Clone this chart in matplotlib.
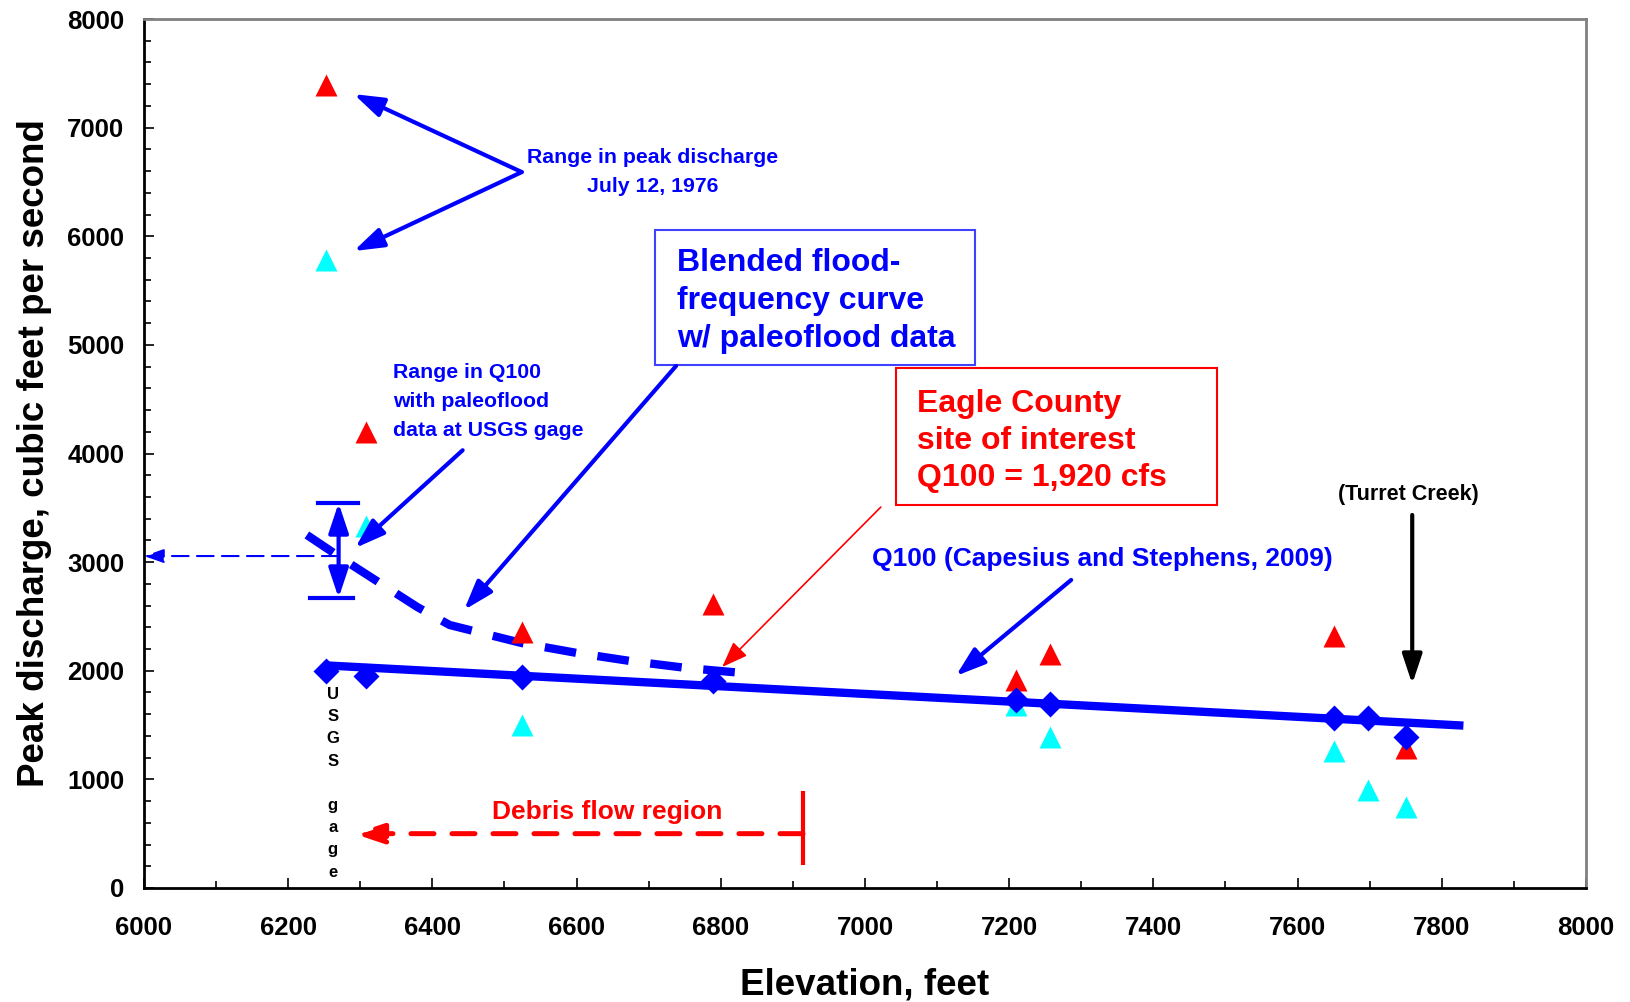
import matplotlib
matplotlib.use('Agg')
import matplotlib.pyplot as plt
from matplotlib.patches import Rectangle
from matplotlib.ticker import MultipleLocator

plt.rcParams['font.family'] = ['Liberation Sans', 'DejaVu Sans']
plt.rcParams['font.weight'] = 'bold'

# station elevations, ft
elev_red = [6253, 6308, 6524, 6789, 7210, 7256, 7650, 7751]
peak_high = [7390, 4200, 2355, 2615, 1915, 2155, 2318, 1285]

elev_cyan = [6253, 6308, 6524, 6789, 7210, 7256, 7650, 7698, 7751]
peak_low = [5783, 3333, 1496, 1936, 1687, 1391, 1257, 903, 750]

elev_q = [6253, 6308, 6524, 6789, 7210, 7256, 7650, 7698, 7751]
q100 = [1993, 1955, 1946, 1908, 1726, 1697, 1563, 1563, 1391]

# regression line Q100 (Capesius and Stephens, 2009)
reg_elev = [6250, 7830]
reg_q = [2050, 1495]

# blended flood-frequency curve w/ paleoflood data
blend_elev = [6226, 6282, 6379, 6424, 6524, 6601, 6674, 6753, 6831]
blend_q = [3250, 3001, 2587, 2421, 2255, 2163, 2090, 2025, 1979]

# range in Q100 with paleoflood data at the gage
gage_elev = 6270
q100_lo, q100_hi, q100_mid = 2670, 3544, 3056

BLUE = '#0000ff'
RED = '#ff0000'
CYAN = '#00ffff'

fig = plt.figure(figsize=(16.3, 10.02), dpi=100)
ax = fig.add_axes([0.0883, 0.1138, 0.8847, 0.8672])

ax.plot(reg_elev, reg_q, color=BLUE, lw=6, solid_capstyle='butt', zorder=3)
ax.plot(blend_elev, blend_q, color=BLUE, lw=6, dashes=(3.8, 2.6), zorder=3)
ax.plot(elev_red, peak_high, '^', color=RED, ms=15.5, mec='none', zorder=4)
ax.plot(elev_cyan, peak_low, '^', color=CYAN, ms=15.5, mec='none', zorder=2)
ax.plot(elev_q, q100, 'D', color=BLUE, ms=13, mec='none', zorder=5)

ax.set_xlim(6000, 8000)
ax.set_ylim(0, 8000)
ax.xaxis.set_major_locator(MultipleLocator(200))
ax.xaxis.set_minor_locator(MultipleLocator(100))
ax.yaxis.set_major_locator(MultipleLocator(1000))
ax.yaxis.set_minor_locator(MultipleLocator(200))
ax.tick_params(which='both', direction='in', width=1.2, color='black')
ax.tick_params(which='major', length=7)
ax.tick_params(which='minor', length=5)
ax.tick_params(axis='x', which='major', pad=20, labelsize=18.5)
ax.tick_params(axis='y', which='major', pad=14, labelsize=18.5)
for lab in ax.get_xticklabels() + ax.get_yticklabels():
    lab.set_fontweight('bold')

for s in ['left', 'bottom']:
    ax.spines[s].set_color('black')
    ax.spines[s].set_linewidth(2)
for s in ['top', 'right']:
    ax.spines[s].set_color('#808080')
    ax.spines[s].set_linewidth(2)

ax.set_xlabel('Elevation, feet', fontsize=26.5, fontweight='bold', labelpad=20)
ax.set_ylabel('Peak discharge, cubic feet per second', fontsize=26.5,
              fontweight='bold', labelpad=11)


def arrow(xy, xytext, color=BLUE, lw=3, hl=0.9, hw=0.3, style='-|>'):
    ax.annotate('', xy=xy, xytext=xytext, zorder=6,
                arrowprops=dict(arrowstyle='%s,head_length=%s,head_width=%s' % (style, hl, hw),
                                color=color, lw=lw, shrinkA=0, shrinkB=0,
                                mutation_scale=20))


# range in peak discharge, July 12, 1976
ax.text(6705, 6591, 'Range in peak discharge\nJuly 12, 1976', color=BLUE,
        fontsize=15.3, fontweight='bold', ha='center', va='center', linespacing=1.7)
arrow((6291, 7309), (6524, 6591))
arrow((6291, 5864), (6524, 6591))

# range in Q100 at gage
ax.text(6345, 4480, 'Range in Q100\nwith paleoflood\ndata at USGS gage', color=BLUE,
        fontsize=15.3, fontweight='bold', ha='left', va='center', linespacing=1.65)
arrow((6293, 3130), (6442, 4030))

arrow((gage_elev, q100_hi), (gage_elev, q100_lo), style='<|-|>')
ax.plot([6241, 6297], [q100_hi, q100_hi], color=BLUE, lw=3, zorder=6)
ax.plot([6230, 6290], [q100_lo, q100_lo], color=BLUE, lw=3, zorder=6)
ax.annotate('', xy=(6000, q100_mid), xytext=(gage_elev, q100_mid), zorder=6,
            arrowprops=dict(arrowstyle='-|>,head_length=1.0,head_width=0.35',
                            color=BLUE, lw=1.5, ls=(0, (8, 4)), shrinkA=0, shrinkB=0,
                            mutation_scale=12))

# blended curve box
ax.add_patch(Rectangle((6709, 4815), 444, 1242, fc='white', ec='#4040ff', lw=1.5, zorder=5))
ax.text(6739, 5890, 'Blended flood-\nfrequency curve\nw/ paleoflood data', color=BLUE,
        fontsize=23, fontweight='bold', ha='left', va='top', linespacing=1.35, zorder=6)
arrow((6444, 2559), (6738, 4806))

# Eagle County box
ax.add_patch(Rectangle((7043, 3526), 445, 1261, fc='white', ec=RED, lw=1.5, zorder=5))
ax.text(7072, 4590, 'Eagle County\nsite of interest\nQ100 = 1,920 cfs', color=RED,
        fontsize=23, fontweight='bold', ha='left', va='top', linespacing=1.3, zorder=6)
arrow((6802, 2034), (7022, 3507), color=RED, lw=1.2, hl=0.8, hw=0.3)

# regression label
ax.text(7329, 3029, 'Q100 (Capesius and Stephens, 2009)', color=BLUE,
        fontsize=19, fontweight='bold', ha='center', va='center')
arrow((7126, 1952), (7286, 2836))

# Turret Creek
ax.text(7753, 3618, '(Turret Creek)', color='black', fontsize=15.5,
        fontweight='bold', ha='center', va='center')
arrow((7759, 1878), (7759, 3434), color='black', lw=3)

# debris flow region
ax.text(6642, 700, 'Debris flow region', color=RED, fontsize=19,
        fontweight='bold', ha='center', va='center')
ax.annotate('', xy=(6291, 500), xytext=(6914, 500), zorder=6,
            arrowprops=dict(arrowstyle='-|>,head_length=0.9,head_width=0.3',
                            color=RED, lw=3.6, ls=(0, (4.6, 3.6)), shrinkA=0, shrinkB=0,
                            mutation_scale=20))
ax.plot([6914, 6914], [230, 875], color=RED, lw=3, zorder=6)

# USGS gage label
ax.text(6262, 1850, 'U\nS\nG\nS\n\ng\na\ng\ne', color='black', fontsize=12,
        fontweight='bold', ha='center', va='top', linespacing=1.6)

fig.savefig('out.png', dpi=100)
